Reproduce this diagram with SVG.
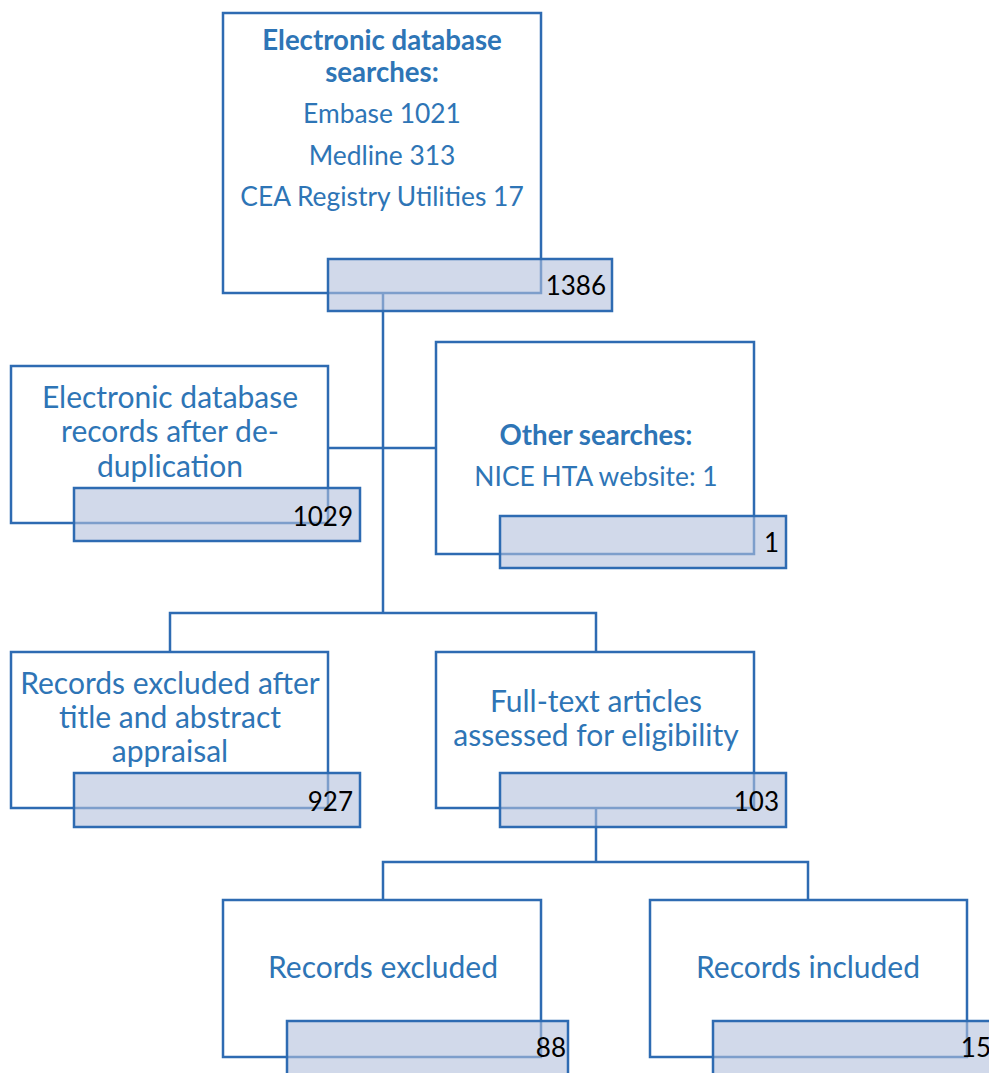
<svg xmlns="http://www.w3.org/2000/svg" width="989" height="1073" viewBox="0 0 989 1073">
  <style>
    .box { fill: #ffffff; stroke: #2e6bb2; stroke-width: 2.5; }
    .count { fill: #b3bfdc; fill-opacity: 0.6; stroke: #2e6bb2; stroke-width: 2.5; }
    .link { fill: none; stroke: #2e6bb2; stroke-width: 2.5; }
    .label { font-family: Lato, "Liberation Sans", sans-serif; font-size: 30px; fill: #2e75b6; text-anchor: middle; }
    .small { font-size: 26.4px; }
    .bold { font-weight: bold; font-size: 27.6px; }
    .num { font-family: Lato, "Liberation Sans", sans-serif; font-size: 26px; fill: #000000; text-anchor: end; }
  </style>

  <!-- connectors -->
  <g id="connectors">
    <path class="link" d="M383,293 V613 M170,652 V613 H596 V652"/>
    <path class="link" d="M328,448 H436"/>
    <path class="link" d="M596,808 V862 M383,900 V862 H808 V900"/>
  </g>

  <g id="database-searches">
    <rect class="box" x="223" y="13" width="318" height="280"/>
    <text class="label bold" x="382" y="50">Electronic database</text>
    <text class="label bold" x="382" y="82">searches:</text>
    <text class="label small" x="382" y="123">Embase 1021</text>
    <text class="label small" x="382" y="165">Medline 313</text>
    <text class="label small" x="382" y="206">CEA Registry Utilities 17</text>
    <rect class="count" x="328" y="259" width="284" height="52"/>
    <text class="num" x="606" y="295">1386</text>
  </g>

  <g id="after-deduplication">
    <rect class="box" x="11" y="366" width="317" height="157"/>
    <text class="label" x="170" y="408">Electronic database</text>
    <text class="label" x="170" y="442">records after de-</text>
    <text class="label" x="170" y="477">duplication</text>
    <rect class="count" x="74" y="488" width="286" height="53"/>
    <text class="num" x="353" y="526">1029</text>
  </g>

  <g id="other-searches">
    <rect class="box" x="436" y="342" width="318" height="212"/>
    <text class="label bold" x="596" y="445">Other searches:</text>
    <text class="label small" x="596" y="486">NICE HTA website: 1</text>
    <rect class="count" x="500" y="516" width="286" height="52"/>
    <text class="num" x="779" y="552">1</text>
  </g>

  <g id="excluded-title-abstract">
    <rect class="box" x="11" y="652" width="317" height="156"/>
    <text class="label" x="170" y="694">Records excluded after</text>
    <text class="label" x="170" y="728">title and abstract</text>
    <text class="label" x="170" y="762">appraisal</text>
    <rect class="count" x="74" y="773" width="286" height="54"/>
    <text class="num" x="353" y="811">927</text>
  </g>

  <g id="full-text-assessed">
    <rect class="box" x="436" y="652" width="318" height="156"/>
    <text class="label" x="596" y="712">Full-text articles</text>
    <text class="label" x="596" y="746">assessed for eligibility</text>
    <rect class="count" x="500" y="773" width="286" height="54"/>
    <text class="num" x="779" y="811">103</text>
  </g>

  <g id="records-excluded">
    <rect class="box" x="223" y="900" width="318" height="157"/>
    <text class="label" x="383" y="978">Records excluded</text>
    <rect class="count" x="287" y="1021" width="281" height="60"/>
    <text class="num" x="566" y="1057">88</text>
  </g>

  <g id="records-included">
    <rect class="box" x="650" y="900" width="317" height="157"/>
    <text class="label" x="808" y="978">Records included</text>
    <rect class="count" x="713" y="1021" width="290" height="60"/>
    <text class="num" x="991" y="1057">15</text>
  </g>
</svg>
